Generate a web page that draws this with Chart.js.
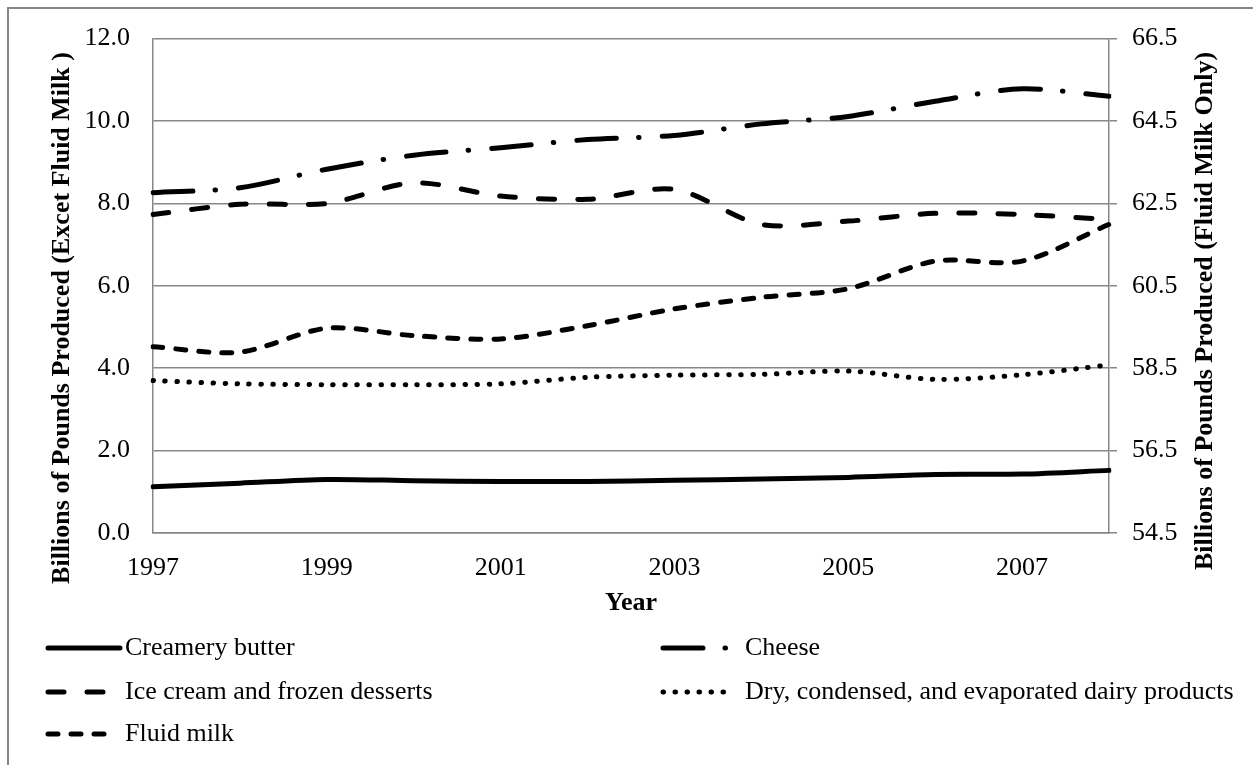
<!DOCTYPE html>
<html>
<head>
<meta charset="utf-8">
<script src="https://cdn.jsdelivr.net/npm/chart.js@4.4.1/dist/chart.umd.min.js"></script>
<style>
  html, body { margin: 0; padding: 0; background: #fff; }
  #wrap { position: relative; width: 1253px; height: 765px; }
</style>
</head>
<body>
<div id="wrap"><canvas id="dairyChart" width="1253" height="765"></canvas></div>
<script>
// data
var years = ['1997', '1998', '1999', '2000', '2001', '2002', '2003', '2004', '2005', '2006', '2007', '2008'];
var butter = [1.12, 1.21, 1.30, 1.27, 1.25, 1.25, 1.28, 1.31, 1.35, 1.42, 1.43, 1.52];
var cheese = [8.26, 8.38, 8.83, 9.17, 9.35, 9.55, 9.65, 9.93, 10.11, 10.48, 10.78, 10.60];
var iceCream = [7.73, 7.98, 8.00, 8.50, 8.18, 8.10, 8.34, 7.49, 7.57, 7.76, 7.73, 7.61];
var dryProducts = [3.70, 3.62, 3.60, 3.60, 3.62, 3.78, 3.83, 3.85, 3.93, 3.73, 3.84, 4.08];
var fluidMilk = [59.02, 58.89, 59.47, 59.29, 59.21, 59.53, 59.94, 60.22, 60.43, 61.10, 61.10, 61.99];

var leftTicks = { min: 0, max: 12, step: 2 };
var rightTicks = { min: 54.5, max: 66.5, step: 2 };

var leftTitle = 'Billions of Pounds Produced (Excet Fluid Milk )';
var rightTitle = 'Billions of Pounds Produced (Fluid Milk Only)';
var xTitle = 'Year';

var FONT = '"Liberation Serif", "Times New Roman", serif';
var GRID = '#878787';

function lineSet(label, data, dash, axis) {
    return {
        label: label,
        data: data,
        yAxisID: axis || 'y',
        borderColor: '#000000',
        backgroundColor: '#000000',
        borderWidth: 5,
        borderDash: dash,
        borderCapStyle: 'round',
        borderJoinStyle: 'round',
        pointRadius: 0,
        tension: 0.3,
        fill: false
    };
}

// 1. frame, y titles and legend drawn on top
var decorPlugin = {
    id: 'decor',
    afterDraw: function(chart) {
        var ctx = chart.ctx;
        ctx.save();

        // outer frame (only left and top are inside the picture)
        ctx.strokeStyle = GRID;
        ctx.lineWidth = 2;
        ctx.beginPath();
        ctx.moveTo(8, 765);
        ctx.lineTo(8, 8);
        ctx.lineTo(1253, 8);
        ctx.stroke();

        // y titles, both read bottom to top
        ctx.fillStyle = '#000';
        ctx.font = 'bold 26px ' + FONT;
        ctx.textAlign = 'center';
        ctx.textBaseline = 'middle';
        ctx.save();
        ctx.translate(62, 318);
        ctx.rotate(-Math.PI / 2);
        ctx.fillText(leftTitle, 0, 0);
        ctx.restore();
        ctx.save();
        ctx.translate(1205, 311);
        ctx.rotate(-Math.PI / 2);
        ctx.fillText(rightTitle, 0, 0);
        ctx.restore();

        // legend, two columns
        var cols = [{ x: 48, tx: 125 }, { x: 663, tx: 745 }];
        var rows = [648, 692, 734];
        var sampleLen = [72, 70, 62, 62, 60];
        ctx.font = '26px ' + FONT;
        ctx.textAlign = 'left';
        chart.data.datasets.forEach(function(ds, i) {
            var c = cols[i % 2];
            var y = rows[Math.floor(i / 2)];
            ctx.strokeStyle = ds.borderColor;
            ctx.lineWidth = ds.borderWidth;
            ctx.lineCap = 'round';
            ctx.setLineDash(ds.borderDash || []);
            ctx.beginPath();
            ctx.moveTo(c.x, y);
            ctx.lineTo(c.x + sampleLen[i], y);
            ctx.stroke();
            ctx.setLineDash([]);
            ctx.fillText(ds.label, c.tx, y);
        });
        ctx.restore();
    }
};

var ctxDairy = document.getElementById('dairyChart');
new Chart(ctxDairy, {
    type: 'line',
    data: {
        labels: years,
        datasets: [
            lineSet('Creamery butter', butter, []),
            lineSet('Cheese', cheese, [40, 22, 0.5, 23]),
            lineSet('Ice cream and frozen desserts', iceCream, [16, 23]),
            lineSet('Dry, condensed, and evaporated dairy products', dryProducts, [0.5, 11.5]),
            lineSet('Fluid milk', fluidMilk, [10, 13], 'y2')
        ]
    },
    options: {
        responsive: false,
        animation: false,
        events: [],
        layout: {
            padding: { top: 37, left: 0, right: 0, bottom: 0 }
        },
        scales: {
            x: {
                type: 'category',
                offset: false,
                afterFit: function(scale) { scale.height = 232; },
                grid: {
                    display: true,
                    drawOnChartArea: false,
                    drawTicks: false
                },
                border: { display: true, color: GRID, width: 1.5 },
                ticks: {
                    autoSkip: false,
                    maxRotation: 0,
                    padding: 20,
                    color: '#000',
                    font: { family: FONT, size: 26 },
                    callback: function(value, index) {
                        return index % 2 === 0 ? this.getLabelForValue(value) : '';
                    }
                },
                title: {
                    display: true,
                    text: xTitle,
                    color: '#000',
                    font: { family: FONT, size: 26, weight: 'bold' },
                    padding: { top: 0, bottom: 146 }
                }
            },
            y: {
                position: 'left',
                min: leftTicks.min,
                max: leftTicks.max,
                afterFit: function(scale) { scale.width = 153; },
                grid: {
                    color: GRID,
                    lineWidth: 1.5,
                    drawTicks: false
                },
                border: { display: true, color: GRID, width: 1.5 },
                ticks: {
                    stepSize: leftTicks.step,
                    padding: 23,
                    color: '#000',
                    font: { family: FONT, size: 26 },
                    callback: function(v) { return v.toFixed(1); }
                }
            },
            y2: {
                position: 'right',
                min: rightTicks.min,
                max: rightTicks.max,
                afterFit: function(scale) { scale.width = 144; },
                grid: {
                    color: GRID,
                    lineWidth: 1.5,
                    drawOnChartArea: false,
                    drawTicks: true,
                    tickLength: 8
                },
                border: { display: true, color: GRID, width: 1.5 },
                ticks: {
                    stepSize: rightTicks.step,
                    padding: 15,
                    color: '#000',
                    font: { family: FONT, size: 26 },
                    callback: function(v) { return v.toFixed(1); }
                }
            }
        },
        plugins: {
            legend: { display: false },
            tooltip: { enabled: false }
        }
    },
    plugins: [decorPlugin]
});
</script>
</body>
</html>
